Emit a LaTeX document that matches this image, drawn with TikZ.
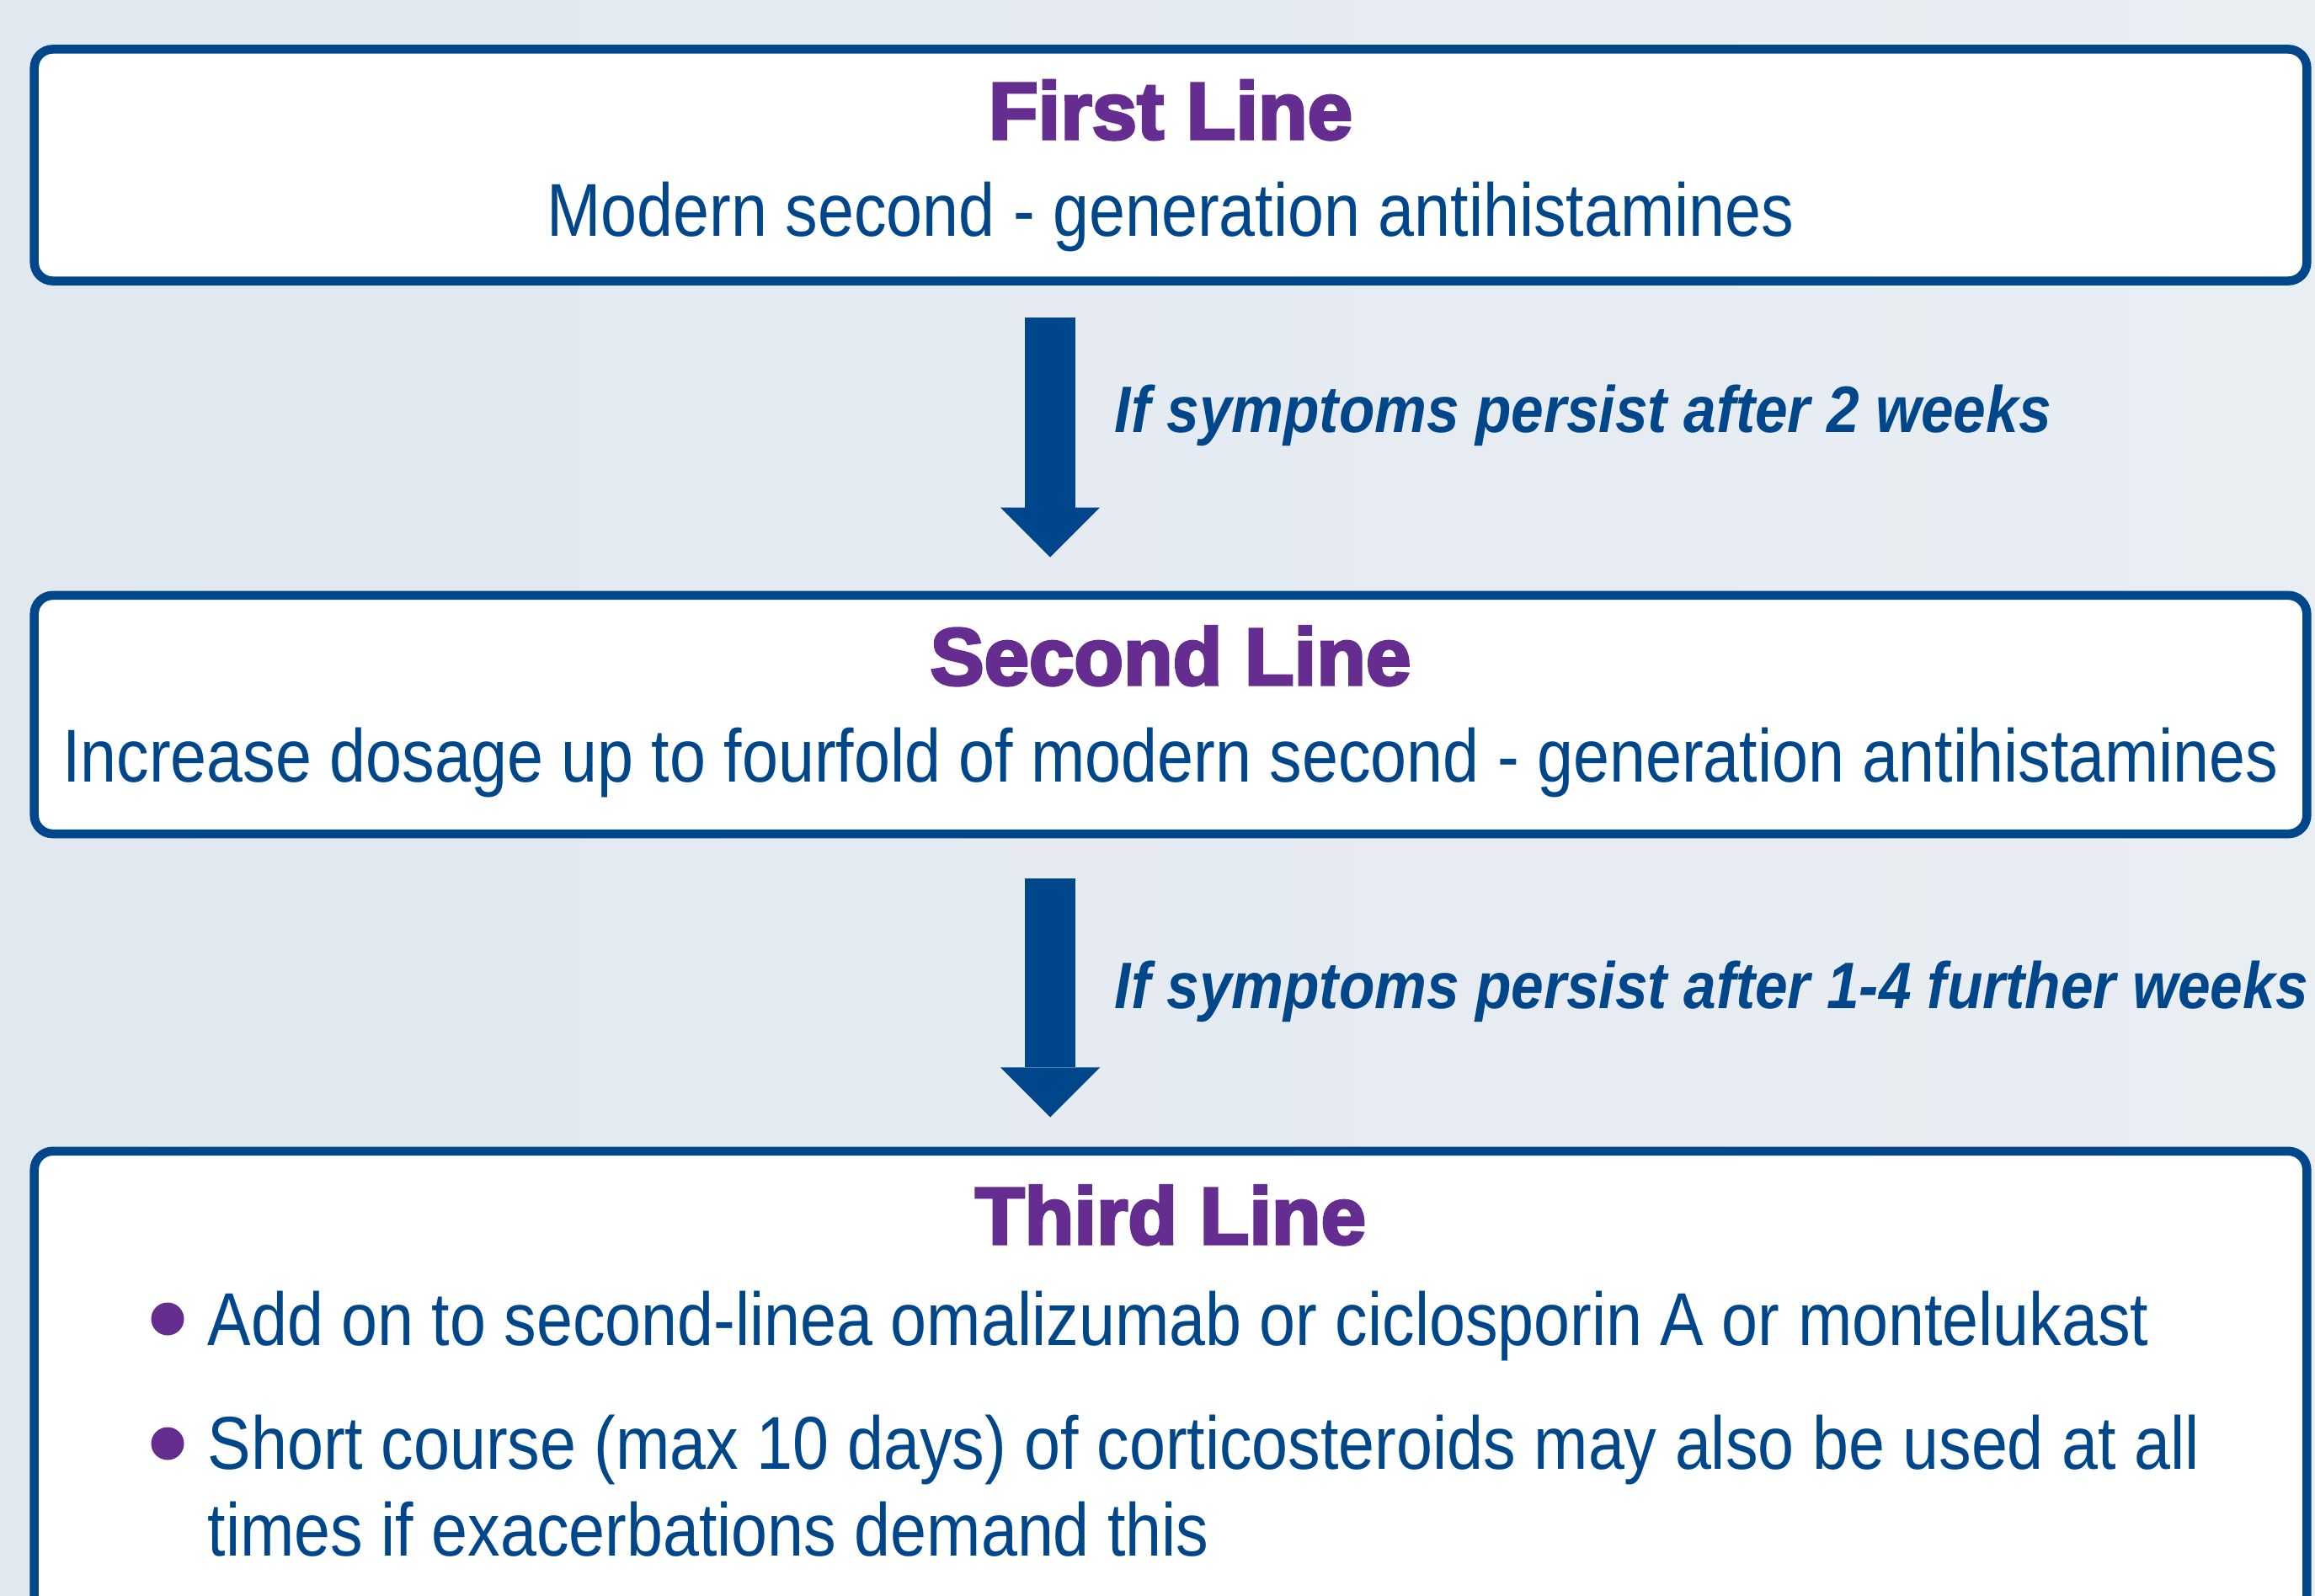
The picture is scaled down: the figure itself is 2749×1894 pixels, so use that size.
\documentclass[tikz,border=0pt]{standalone}
\usepackage{fontspec}
\setmainfont{Liberation Sans}
\newfontfamily\bodyfont{Liberation Sans}[FakeStretch=0.868]
\newfontfamily\lblfont{Liberation Sans}[FakeStretch=0.89]
\newfontfamily\ttlfont{Liberation Sans Bold}[FakeBold=3.5]
\usetikzlibrary{arrows.meta}
\definecolor{navy}{RGB}{0,70,139}
\definecolor{grape}{RGB}{102,45,145}
\definecolor{bgl}{RGB}{225,232,240}
\definecolor{bgr}{RGB}{233,238,243}
\begin{document}
\begin{tikzpicture}[x=0.01cm, y=-0.01cm,
  box/.style={draw=navy, fill=white, line width=3pt, rounded corners=0.22cm, inner sep=0pt, minimum width=26.97cm},
  ttl/.style={font=\ttlfont\fontsize{27.3}{32}\selectfont, text=grape, anchor=base, inner sep=0pt},
  body/.style={font=\bodyfont\fontsize{25.3}{30}\selectfont, text=navy, anchor=base, inner sep=0pt},
  bl/.style={body, anchor=base west},
  lbl/.style={font=\lblfont\bfseries\itshape\fontsize{22.2}{26}\selectfont, text=navy, anchor=base west, inner sep=0pt},
  bigarrow/.style={draw=navy, line width=16.8pt, -{Triangle[width=33.6pt,length=16.8pt,line width=0pt]}},
  dot/.style={circle, fill=grape, minimum size=0.39cm, inner sep=0pt}
]
\useasboundingbox (0,0) rectangle (2749,1894);
\clip (0,0) rectangle (2749,1894);
\shade[left color=bgl, right color=bgr] (0,0) rectangle (2749,1894);

\node[box, minimum height=2.75cm] (box1) at (1390,196) {};
\node[box, minimum height=2.83cm] (box2) at (1390,848.5) {};
\node[box, minimum height=7.33cm] (box3) at (1390,1733.5) {};

\node[ttl] (t1) at (1390,165) {First Line};
\node[body] (d1) at (1390,280) {Modern second - generation antihistamines};
\node[ttl] (t2) at (1390,813) {Second Line};
\node[body] (d2) at (1390,928) {Increase dosage up to fourfold of modern second - generation antihistamines};
\node[ttl] (t3) at (1390,1477) {Third Line};
\node[dot] (p1) at (199,1566) {};
\node[bl] (i1) at (246,1597) {Add on to second-linea omalizumab or ciclosporin A or montelukast};
\node[dot] (p2) at (199,1714) {};
\node[bl] (i2) at (246,1744) {Short course (max 10 days) of corticosteroids may also be used at all};
\node[bl] (i3) at (246,1847) {times if exacerbations demand this};

\coordinate (ax) at (1247,0);
\draw[bigarrow, shorten <=0.38cm, shorten >=0.40cm] (box1.south -| ax) -- (box2.north -| ax);
\draw[bigarrow, shorten <=0.48cm, shorten >=0.35cm] (box2.south -| ax) -- (box3.north -| ax);

\node[lbl] (l1) at (1323,513) {If symptoms persist after 2 weeks};
\node[lbl] (l2) at (1323,1197) {If symptoms persist after 1-4 further weeks};
\end{tikzpicture}
\end{document}
